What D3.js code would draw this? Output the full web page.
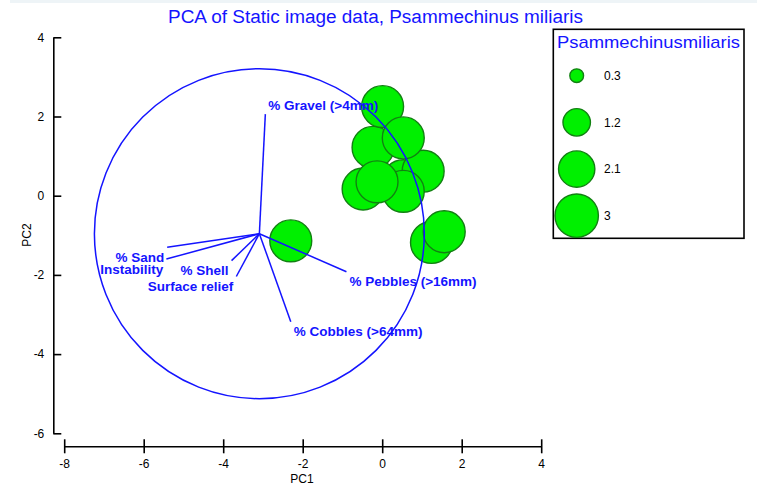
<!DOCTYPE html>
<html>
<head>
<meta charset="utf-8">
<script src="https://cdn.jsdelivr.net/npm/d3@7"></script>
<style>
  body { margin: 0; background: #fff; }
  svg { font-family: "Liberation Sans", Arial, sans-serif; }
  .tick text { font-size: 12px; fill: #000; }
  .vec-label { font-size: 13.5px; font-weight: bold; fill: #1414ff; }
</style>
</head>
<body>
<div id="chart"></div>
<script>
// sample scores on PC1 / PC2 with Psammechinus miliaris abundance (bubble size)
var pc1 = [0.53, 1.03, 0.53, -0.48, -0.23, -0.13, 0.01, 0.53, 1.24, 1.56, -2.30]
var pc2 = [0.38, 0.62, 0.11, 0.17, 1.22, 0.35, 2.25, 1.46, -1.18, -0.91, -1.14]
var abund = [2.8, 2.8, 2.8, 2.8, 2.8, 2.8, 2.8, 2.8, 2.8, 2.8, 2.8]

// environmental vectors (end points in PC units), drawn from a common origin
var vecNames = ['% Gravel (>4mm)', '% Sand', 'Instability', '% Shell', 'Surface relief', '% Pebbles (>16mm)', '% Cobbles (>64mm)']
var vecPC1 = [-2.94, -5.41, -5.43, -3.79, -3.67, -0.90, -2.30]
var vecPC2 = [2.06, -1.30, -1.60, -1.64, -2.04, -1.92, -3.18]
var vecOrigin = [-3.09, -0.96]
var circleRadius = 4.15

var legendValues = [0.3, 1.2, 2.1, 3]
var xTicks = [-8, -6, -4, -2, 0, 2, 4]
var yTicks = [-6, -4, -2, 0, 2, 4]

var blue = '#1414ff'
var W = 757, H = 486

var svg = d3.select('#chart').append('svg').attr('width', W).attr('height', H)

svg.append('rect').attr('x', 10).attr('y', 0).attr('width', W - 10).attr('height', 3).attr('fill', '#eef4f7')

var x = d3.scaleLinear().domain([-8, 4]).range([64.2, 541.2])
var y = d3.scaleLinear().domain([-6, 4]).range([433.3, 37.3])
var r = d3.scaleSqrt().domain([0, 3]).range([0, 21.7])
var fmt = function(d){ return String(d) }

// axes
var xAxis = svg.append('g').attr('transform', 'translate(0,446.3)')
  .call(d3.axisBottom(x).tickValues(xTicks).tickFormat(fmt).tickSize(7).tickSizeOuter(0).tickPadding(6))
xAxis.selectAll('.tick line').attr('y1', -7)
var yAxis = svg.append('g').attr('transform', 'translate(53.3,0)')
  .call(d3.axisLeft(y).tickValues(yTicks).tickFormat(fmt).tickSize(5).tickSizeOuter(0).tickPadding(4))
yAxis.selectAll('.tick line').attr('x2', 8)
svg.selectAll('.domain, .tick line').attr('stroke', '#000').attr('stroke-width', 1.6)

svg.append('text').attr('x', 302).attr('y', 483).attr('text-anchor', 'middle')
  .attr('font-size', 12).text('PC1')
svg.append('text').attr('transform', 'translate(31,235) rotate(-90)').attr('text-anchor', 'middle')
  .attr('font-size', 12).text('PC2')

// title
svg.append('text').attr('x', 168).attr('y', 23)
  .attr('font-size', 18).attr('fill', blue)
  .attr('textLength', 415).attr('lengthAdjust', 'spacingAndGlyphs')
  .text('PCA of Static image data, Psammechinus miliaris')

// bubbles
var pts = pc1.map(function(d, i){ return {x: d, y: pc2[i], v: abund[i]} })
svg.append('g').selectAll('circle').data(pts).join('circle')
  .attr('cx', function(d){ return x(d.x) })
  .attr('cy', function(d){ return y(d.y) })
  .attr('r', function(d){ return r(d.v) })
  .attr('fill', '#00f000').attr('stroke', '#128012').attr('stroke-width', 1.4)

// correlation circle
var ox = x(vecOrigin[0]), oy = y(vecOrigin[1])
svg.append('circle').attr('cx', ox).attr('cy', oy)
  .attr('r', x(circleRadius) - x(0))
  .attr('fill', 'none').attr('stroke', blue).attr('stroke-width', 1.5)

// vectors
var vecs = vecNames.map(function(n, i){ return {name: n, x: vecPC1[i], y: vecPC2[i]} })
svg.append('g').selectAll('line').data(vecs).join('line')
  .attr('x1', ox).attr('y1', oy)
  .attr('x2', function(d){ return x(d.x) })
  .attr('y2', function(d){ return y(d.y) })
  .attr('stroke', blue).attr('stroke-width', 1.5)

svg.append('g').selectAll('text').data(vecs).join('text')
  .attr('class', 'vec-label')
  .attr('x', function(d){ return x(d.x) + (d.x < vecOrigin[0] ? -3 : 3) })
  .attr('y', function(d){ return y(d.y) + (d.y > vecOrigin[1] ? -4 : 14.5) })
  .attr('text-anchor', function(d){ return d.x < vecOrigin[0] ? 'end' : 'start' })
  .text(function(d){ return d.name })

// legend
var lg = svg.append('g')
lg.append('rect').attr('x', 553.3).attr('y', 29.3).attr('width', 190.7).attr('height', 209)
  .attr('fill', '#fff').attr('stroke', '#000').attr('stroke-width', 1.6)
lg.append('text').attr('x', 557).attr('y', 48).attr('font-size', 17).attr('fill', blue)
  .attr('textLength', 183).attr('lengthAdjust', 'spacingAndGlyphs').text('Psammechinusmiliaris')
var ly = d3.scalePoint().domain(legendValues).range([75.7, 215.7])
var items = lg.selectAll('g.item').data(legendValues).join('g').attr('class', 'item')
  .attr('transform', function(d){ return 'translate(0,' + ly(d) + ')' })
items.append('circle').attr('cx', 576.7).attr('r', function(d){ return r(d) })
  .attr('fill', '#00f000').attr('stroke', '#128012').attr('stroke-width', 1.4)
items.append('text').attr('x', 604).attr('dy', '0.35em').attr('font-size', 12)
  .text(function(d){ return d })
</script>
</body>
</html>
